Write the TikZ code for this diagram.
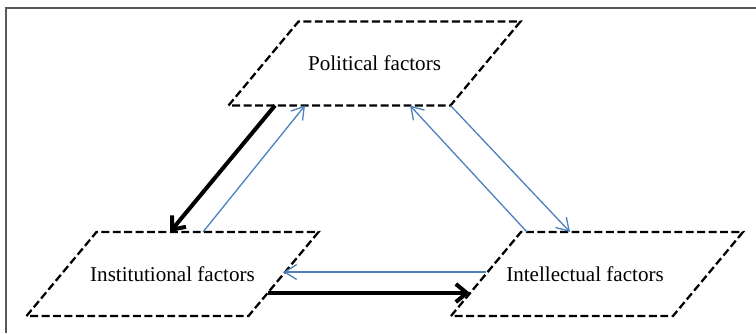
\documentclass[tikz,border=0pt]{standalone}
\usepackage{fontspec}
\setmainfont{Liberation Serif}
\usepackage{tikz}
\usetikzlibrary{arrows.meta, positioning, calc}
\definecolor{linkblue}{RGB}{79,129,189}
\tikzset{
  factorbox/.style={
    rectangle, outer sep=0pt, inner sep=0pt,
    minimum width=4.44cm, minimum height=1.68cm,
    font=\fontsize{12}{14}\selectfont
  },
  factorframe/.style={
    draw, line width=1.3pt, dash pattern=on 4.5pt off 2pt
  },
  weakarrow/.style={
    -{Straight Barb[length=2.4mm, width=3mm]}, line width=0.75pt, color=linkblue
  },
  strongarrow/.style={
    -{Straight Barb[length=2.2mm, width=3.6mm]}, line width=2.3pt, color=black
  },
}
% dashed parallelogram around a factor node
\newcommand{\slantframe}[1]{%
  \draw[factorframe] ([xshift=-0.7cm]#1.south west) -- ([xshift=0.7cm]#1.north west)
    -- ([xshift=0.7cm]#1.north east) -- ([xshift=-0.7cm]#1.south east) -- cycle;}

\begin{document}
\begin{tikzpicture}
  \useasboundingbox (0,0) rectangle (15.12,6.66);

  % frame
  \draw[gray!70!black, line width=0.8pt] (0.12,0) -- (0.12,6.50) -- (15.12,6.50);

  % ---- the three factors ----
  \node[factorbox] (pol) at (7.49, 5.39) {Political factors};
  \node[factorbox] (inst) at (3.45, 1.18) {Institutional factors};
  \node[factorbox] (intel) at (11.94, 1.18) {Intellectual factors\rule{0.48cm}{0pt}};
  \slantframe{pol}
  \slantframe{inst}
  \slantframe{intel}

  % ---- political <-> institutional ----
  \draw[strongarrow] ([xshift=0.23cm]pol.south west)
    -- ([xshift=2.17cm]inst.north west);
  \draw[weakarrow] ([xshift=2.83cm]inst.north west)
    -- ([xshift=0.83cm]pol.south west);

  % ---- political <-> intellectual ----
  \draw[weakarrow] ([xshift=0.82cm]intel.north west)
    -- ([xshift=2.93cm]pol.south west);
  \draw[weakarrow] ([xshift=-0.7cm]pol.south east)
    -- ([xshift=1.68cm]intel.north west);

  % ---- institutional <-> intellectual ----
  \draw[weakarrow] ([yshift=0.04cm]intel.west) -- ([yshift=0.04cm]inst.east);
  \draw[strongarrow] ([xshift=-0.32cm, yshift=-0.38cm]inst.east)
    -- ([xshift=-0.32cm, yshift=-0.38cm]intel.west);
\end{tikzpicture}
\end{document}
